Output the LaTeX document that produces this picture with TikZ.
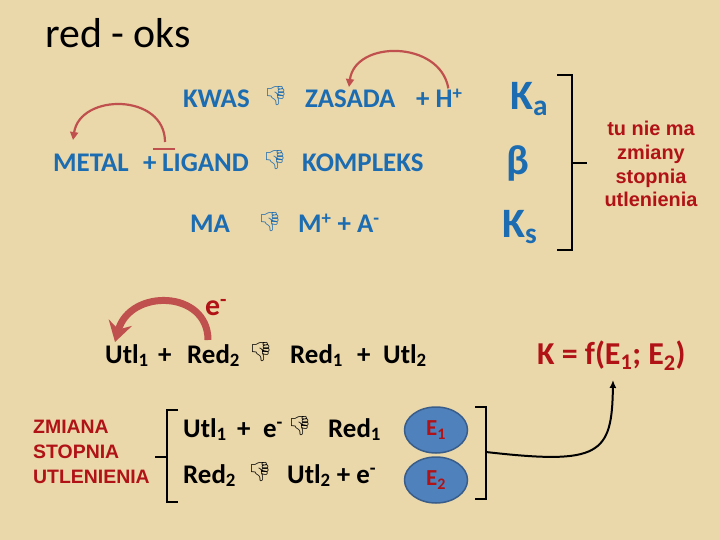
\documentclass[tikz,border=0pt]{standalone}
\usepackage{fontspec}
\setmainfont{Carlito}
\newfontfamily\arialfont{Liberation Sans}
\newfontfamily\emojifont{Noto Emoji}
\usetikzlibrary{arrows.meta,shapes.geometric}

\definecolor{parchment}{RGB}{234,215,170}
\definecolor{chemblue}{RGB}{28,108,178}
\definecolor{darkred}{RGB}{176,18,22}
\definecolor{arrowred}{RGB}{192,80,77}
\definecolor{ellfill}{RGB}{79,129,189}
\definecolor{elldraw}{RGB}{56,93,138}

\newcommand{\eqhand}{{\emojifont\fontsize{19}{19}\selectfont\symbol{"1F44E}}}

\tikzset{
	chem/.style={font=\bfseries\fontsize{27}{27}\selectfont, inner sep=0pt, anchor=base west},
	bluechem/.style={chem, text=chemblue},
	constant/.style={font=\bfseries\fontsize{42}{42}\selectfont, text=chemblue, inner sep=0pt},
	eqsign/.style={inner sep=0pt},
	note/.style={font=\arialfont\bfseries\fontsize{20}{24}\selectfont, text=darkred, align=center, inner sep=0pt},
	bracket/.style={line width=2pt, black},
	bendarrow/.style={arrowred, line width=2.2pt, -{Triangle[length=8pt,width=8pt]}},
	potential/.style={ellipse, draw=elldraw, line width=1.5pt, fill=ellfill, minimum width=63bp, minimum height=46bp, inner sep=0pt, text=darkred, font=\bfseries\fontsize{23}{23}\selectfont}
}

\begin{document}
\begin{tikzpicture}[x=1bp, y=-1bp]

	% --- Background ---
	\fill[parchment] (0,0) rectangle (720,540);
	\useasboundingbox (0,0) rectangle (720,540);

	% --- Title ---
	\node[anchor=base west, inner sep=0pt, font=\fontsize{42}{42}\selectfont] (title) at (45,48) {red - oks};

	% --- Equilibria without electron transfer ---
	\node[bluechem] (kwas) at (183,108) {KWAS};
	\node[eqsign, text=chemblue] (eqA) at (276,96) {\eqhand};
	\node[bluechem] (zasada) at (305,108) {ZASADA};
	\node[bluechem] (hplus) at (416,108) {+ H\textsuperscript{+}};

	\node[bluechem] (metal) at (53,172) {METAL};
	\node[bluechem] (plusM) at (143,172) {+};
	\node[bluechem] (ligand) at (162,172) {LIGAND};
	\node[eqsign, text=chemblue] (eqB) at (275,160) {\eqhand};
	\node[bluechem] (kompleks) at (302,172) {KOMPLEKS};

	\node[bluechem] (ma) at (190,233) {MA};
	\node[eqsign, text=chemblue] (eqC) at (270,222) {\eqhand};
	\node[bluechem] (ions) at (298,233) {M\textsuperscript{+} + A\textsuperscript{-}};

	% --- Constants ---
	\node[constant, anchor=base west] (ka) at (510,110) {K\textsubscript{a}};
	\node[constant] (beta) at (518,163) {β};
	\node[constant, anchor=base west] (ks) at (502,238) {K\textsubscript{s}};

	\draw[bracket] (557,75) -- (572,75) -- (572,250) -- (557,250);
	\draw[bracket] (572,163) -- (587,163);
	\node[note] (note) at (651,164) {tu nie ma\\zmiany\\stopnia\\utlenienia};

	% --- Proton and ligand transfer ---
	\draw[bendarrow] ([xshift=9bp]hplus.north) .. controls (440,40) and (355,40) .. (349,87);
	\draw[arrowred, line width=2pt] (153,149) -- (175,149);
	\draw[bendarrow] (165,142) .. controls (165,93) and (80,93) .. (73,140);

	% --- Redox reaction ---
	\node[anchor=base west, inner sep=0pt, text=darkred, font=\bfseries\fontsize{30}{30}\selectfont] (elec) at (205,315) {e\textsuperscript{-}};

	\node[chem] (utlA) at (105,363) {Utl\textsubscript{1}};
	\node[chem] (plusA) at (158,363) {+};
	\node[chem] (redB) at (187,363) {Red\textsubscript{2}};
	\node[eqsign] (eqD) at (261,352) {\eqhand};
	\node[chem] (redA) at (290,363) {Red\textsubscript{1}};
	\node[chem] (plusB) at (357,363) {+};
	\node[chem] (utlB) at (383,363) {Utl\textsubscript{2}};

	\draw[arrowred, line width=7pt, -{Stealth[length=20pt,width=24pt,inset=7pt]}]
		(208,340) .. controls (208,290) and (130,288) .. (115,342);

	\node[chem, text=darkred, font=\bfseries\fontsize{32}{32}\selectfont] (kfun) at (537,364) {K = f(E\textsubscript{1}; E\textsubscript{2})};

	% --- Half reactions ---
	\node[note, align=left, font=\arialfont\bfseries\fontsize{19.5}{25}\selectfont, anchor=west] (zmiana) at (33,452) {ZMIANA\\STOPNIA\\UTLENIENIA};
	\draw[bracket] (178,410) -- (167,410) -- (167,502) -- (178,502);
	\draw[bracket] (155,457) -- (167,457);

	\node[chem] (utlC) at (183,437) {Utl\textsubscript{1}};
	\node[chem] (plusC) at (237,437) {+};
	\node[chem] (elecB) at (263,437) {e\textsuperscript{-}};
	\node[eqsign] (eqE) at (300,426) {\eqhand};
	\node[chem] (redC) at (328,437) {Red\textsubscript{1}};

	\node[chem] (redD) at (183,483) {Red\textsubscript{2}};
	\node[eqsign] (eqF) at (260,472) {\eqhand};
	\node[chem] (utlD) at (287,483) {Utl\textsubscript{2} + e\textsuperscript{-}};

	\node[potential] (e1) at (436,430) {E\textsubscript{1}};
	\node[potential] (e2) at (436,480) {E\textsubscript{2}};

	\draw[bracket] (475,407) -- (486,407) -- (486,499) -- (475,499);
	\coordinate (ktip) at (613,380);
	\draw[line width=2pt, -{Latex[length=8pt,width=7pt]}] (486,452) .. controls (600,465) and (612,455) .. (ktip);

\end{tikzpicture}
\end{document}
